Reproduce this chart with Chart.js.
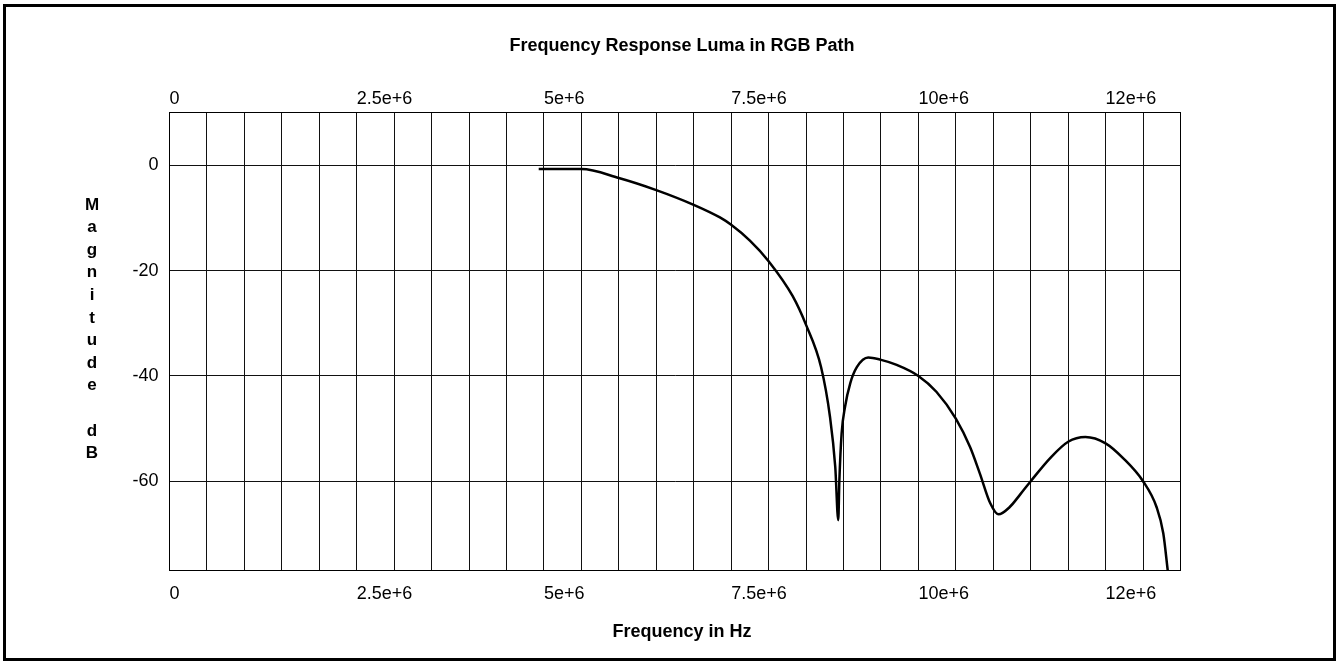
<!DOCTYPE html>
<html>
<head>
<meta charset="utf-8">
<title>Frequency Response Luma in RGB Path</title>
<script src="https://cdn.jsdelivr.net/npm/chart.js@4.4.1/dist/chart.umd.min.js"></script>
<style>
  html, body { margin: 0; padding: 0; background: #fff; }
  #wrap { position: relative; width: 1339px; height: 664px; }
  #frame {
    position: absolute; left: 3px; top: 4px; width: 1333px; height: 657px;
    box-sizing: border-box; border: 3px solid #000; pointer-events: none;
  }
</style>
</head>
<body>
<div id="wrap">
  <canvas id="chartFreq" width="1339" height="664"></canvas>
  <div id="frame"></div>
</div>
<script>
// frequency (Hz) and magnitude (dB)
const freqHz = [
  4.93e6, 5.5e6, 6.0e6, 6.5e6, 7.0e6, 7.35e6, 7.5e6, 7.75e6, 8.0e6,
  8.32e6, 8.5e6, 8.7e6, 8.82e6, 8.89e6, 8.93e6, 8.945e6, 8.975e6, 9.02e6, 9.09e6,
  9.18e6, 9.33e6, 9.49e6, 9.71e6, 10.0e6, 10.24e6, 10.5e6, 10.69e6, 10.82e6, 10.96e6,
  11.07e6, 11.22e6, 11.36e6, 11.5e6, 11.76e6, 12.0e6, 12.23e6, 12.5e6, 12.74e6, 13.0e6,
  13.18e6, 13.27e6, 13.33e6
];
const magDb = [
  -0.7, -0.7, -2.4, -4.7, -7.5, -9.9, -11.3, -14.3, -18.2,
  -24.8, -30.3, -38.3, -47.8, -57.3, -67.4, -59.8, -50.9, -45.9, -41.4,
  -38.3, -36.5, -36.9, -37.9, -40, -43, -48.1, -53.5, -58.5, -64.2,
  -66.3, -64.9, -62.5, -60, -55.6, -52.5, -51.6, -52.8, -55.7, -60,
  -64.9, -69.9, -77
];

// x axis: grid every 0.5e6, labels only at these values
const xLabelValues = [0, 2.5e6, 5e6, 7.5e6, 10e6, 12.5e6];
const xLabelTexts = ["0", "2.5e+6", "5e+6", "7.5e+6", "10e+6", "12e+6"];
const yTickValues = [-60, -40, -20, 0];
const yTitleLetters = ["M", "a", "g", "n", "i", "t", "u", "d", "e", "", "d", "B"];

const FONT = "'Liberation Sans', Arial, Helvetica, sans-serif";
Chart.defaults.font.family = FONT;
Chart.defaults.font.size = 18;
Chart.defaults.color = "#000";

function xLabel(value) {
  for (let i = 0; i < xLabelValues.length; i++) {
    if (Math.abs(value - xLabelValues[i]) < 1) return xLabelTexts[i];
  }
  return "";
}

// stacked vertical title on the left ("Magnitude dB", one letter per line)
const stackedYTitle = {
  id: "stackedYTitle",
  afterDraw(chart) {
    const ctx = chart.ctx;
    ctx.save();
    ctx.font = "bold 17px " + FONT;
    ctx.fillStyle = "#000";
    ctx.textAlign = "center";
    ctx.textBaseline = "alphabetic";
    yTitleLetters.forEach(function(ch, i) {
      ctx.fillText(ch, 92, 209.5 + i * 22.6);
    });
    ctx.restore();
  }
};

const gridColor = "#111";

const ctx = document.getElementById("chartFreq").getContext("2d");
const chart = new Chart(ctx, {
  type: "line",
  data: {
    datasets: [{
      data: freqHz.map(function(f, i) { return { x: f, y: magDb[i] }; }),
      borderColor: "#000",
      borderWidth: 2.5,
      pointRadius: 0,
      cubicInterpolationMode: "monotone",
      fill: false
    }]
  },
  options: {
    responsive: false,
    animation: false,
    layout: { padding: { left: 25, right: 0, top: 0, bottom: 0 } },
    plugins: {
      legend: { display: false },
      tooltip: { enabled: false },
      title: {
        display: true,
        text: "Frequency Response Luma in RGB Path",
        font: { size: 18, weight: "bold" },
        color: "#000",
        padding: { top: 35.2, bottom: 0 }
      },
      subtitle: {
        display: true,
        position: "bottom",
        text: "Frequency in Hz",
        font: { size: 18, weight: "bold" },
        color: "#000",
        padding: { top: 0, bottom: 21.2 }
      }
    },
    scales: {
      x: {
        type: "linear",
        position: "bottom",
        min: 0,
        max: 13.5e6,
        grid: { display: true, color: gridColor, lineWidth: 1, drawTicks: false },
        border: { display: true, color: "#000", width: 1 },
        ticks: {
          stepSize: 0.5e6,
          autoSkip: false,
          maxRotation: 0,
          align: "start",
          padding: 12.5,
          callback: xLabel
        },
        afterFit: function(s) { s.height = 50.5; }
      },
      x2: {
        type: "linear",
        position: "top",
        min: 0,
        max: 13.5e6,
        grid: { display: false, drawTicks: false },
        border: { display: true, color: "#000", width: 1 },
        ticks: {
          stepSize: 0.5e6,
          autoSkip: false,
          maxRotation: 0,
          align: "start",
          padding: 2.4,
          callback: xLabel
        },
        afterFit: function(s) { s.height = 55.9; }
      },
      y: {
        type: "linear",
        position: "left",
        min: -77,
        max: 10,
        grid: { display: true, color: gridColor, lineWidth: 1, drawTicks: false },
        border: { display: true, color: "#000", width: 1 },
        afterBuildTicks: function(s) {
          s.ticks = yTickValues.map(function(v) { return { value: v }; });
        },
        ticks: {
          padding: 11,
          callback: function(v) { return String(v); }
        },
        afterFit: function(s) { s.width = 144.5; }
      },
      y2: {
        type: "linear",
        position: "right",
        min: -77,
        max: 10,
        grid: { display: false, drawTicks: false },
        border: { display: true, color: "#000", width: 1 },
        ticks: { display: false },
        afterFit: function(s) { s.width = 158.5; }
      }
    }
  },
  plugins: [stackedYTitle]
});
</script>
</body>
</html>
